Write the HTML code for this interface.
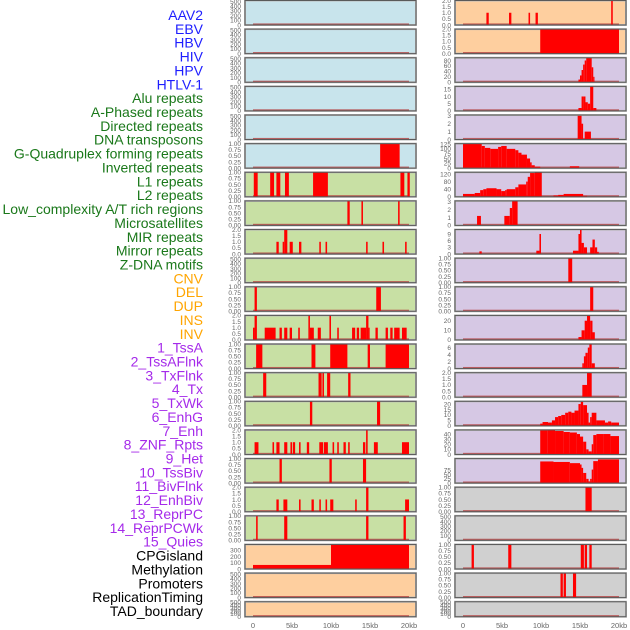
<!DOCTYPE html>
<html><head><meta charset="utf-8">
<style>
html,body{margin:0;padding:0;background:#fff;width:630px;height:630px;overflow:hidden}
svg{display:block;font-family:"Liberation Sans",sans-serif}
</style></head>
<body>
<svg id="chart" width="630" height="630" viewBox="0 0 630 630"></svg>
<script>
const labelNames = ["AAV2","EBV","HBV","HIV","HPV","HTLV-1","Alu repeats","A-Phased repeats","Directed repeats","DNA transposons","G-Quadruplex forming repeats","Inverted repeats","L1 repeats","L2 repeats","Low_complexity A/T rich regions","Microsatellites","MIR repeats","Mirror repeats","Z-DNA motifs","CNV","DEL","DUP","INS","INV","1_TssA","2_TssAFlnk","3_TxFlnk","4_Tx","5_TxWk","6_EnhG","7_Enh","8_ZNF_Rpts","9_Het","10_TssBiv","11_BivFlnk","12_EnhBiv","13_ReprPC","14_ReprPCWk","15_Quies","CPGisland","Methylation","Promoters","ReplicationTiming","TAD_boundary"];
const labelGroups = [0,0,0,0,0,0,1,1,1,1,1,1,1,1,1,1,1,1,1,2,2,2,2,2,3,3,3,3,3,3,3,3,3,3,3,3,3,3,3,4,4,4,4,4];
const xTicks = [0,5,10,15,20];
const xTickLabels = ["0","5kb","10kb","15kb","20kb"];
const T500=[0,100,200,300,400,500], T1=[0,0.25,0.5,0.75,1.0], T2=[0,0.5,1.0,1.5,2.0];
const panelTicks = [T500,T500,T500,T500,T500,T1,T1,T1,T2,T500,T1,T2,T1,T1,T1,T2,T1,T2,T1,[0,100,200,300],T500,T500,
 T2,T2,[0,20,40,60,80],[0,5,10,15],[0,1,2,3],[0,25,50,75,100,125],[0,40,80,120],[0,1,2,3],[0,3,6,9],T1,T1,[0,10,20],[0,2,4,6],T2,[0,5,10,15,20],[0,10,20,30,40],[0,25,50,75],T1,T500,T1,T1,T500];
const panelYmax = [520,520,520,520,520,1,1,1,2,520,1,2,1,1,1,2,1,2,1,395,520,520,
 2,2,90,17,3.1,127,129,3.1,11,1,1,25.5,7,2,22.5,48,145,1,520,1,1,520];
// bars: [startKb, endKb, value]
const panelBars = [
 [],[],[],[],[],
 [[16.3,18.8,1]],
 [[0.1,0.6,1],[2.2,2.7,1],[3.0,3.5,1],[4.1,4.6,1],[7.7,9.6,1],[18.9,19.4,1],[19.8,20.1,1]],
 [[12.1,12.4,1],[13.9,14.1,1],[18.6,18.8,1]],
 [[3.0,3.3,1],[3.8,4.0,1],[4.0,4.4,2],[4.7,5.1,1],[5.9,6.2,1],[8.5,8.7,1],[9.3,9.5,1],[14.5,14.7,1],[16.6,16.8,1],[19.5,19.7,1]],
 [],
 [[0.2,0.5,1],[15.8,16.4,1]],
 [[0,0.2,1],[0.2,0.5,2],[1.5,2.9,1],[3.4,3.7,1],[4.0,4.4,1],[4.7,5.0,1],[5.8,6.0,1],[7.1,7.3,2],[7.3,7.8,1],[8.3,8.7,1],[9.8,10.0,2],[10.8,11.0,1],[12.7,13.1,1],[13.3,13.6,1],[13.8,14.5,1],[14.5,14.8,2],[14.8,14.9,1],[15.7,16.0,1],[17.0,17.3,1],[17.6,17.9,1],[18.1,18.8,1],[19.1,19.7,1]],
 [[0.4,1.2,1],[7.5,8.0,1],[9.9,12.1,1],[14.7,15.0,1],[17.0,20.0,1]],
 [[1.3,1.7,1],[8.4,8.8,1],[8.9,9.1,1],[9.5,9.9,1],[12.2,12.5,1]],
 [[7.3,7.6,1],[15.9,16.3,1]],
 [[0.2,0.7,1],[2.5,2.7,1],[3.0,3.4,1],[4.0,4.4,1],[4.8,5.0,1],[5.1,5.4,1],[5.9,6.1,1],[6.9,7.2,1],[8.5,9.0,1],[9.1,9.6,1],[10.2,10.4,1],[10.8,11.0,1],[11.6,11.9,1],[12.2,12.4,1],[14.1,14.4,1],[14.5,14.7,2],[15.5,16.0,1],[19.1,20.0,1]],
 [[3.4,3.7,1],[9.8,10.1,1],[14.1,14.5,1]],
 [[3.0,3.3,1],[3.9,4.4,1],[5.9,6.1,1],[7.5,7.8,1],[8.5,8.7,1],[9.3,9.5,1],[9.9,10.3,1],[13.1,13.3,1],[14.5,14.8,2],[19.5,20.0,1]],
 [[0.4,0.6,1],[4.0,4.4,1],[14.5,14.8,1],[19.3,19.6,1]],
 [[0,10,65],[10,20,395]],
 [],[],
 [[3.0,3.3,1],[5.9,6.2,1],[8.4,8.6,1],[9.3,9.6,1],[19.0,19.2,2]],
 [[9.9,20.0,2]],
 [[9.9,10.0,2],[14.8,15.0,10],[15.0,15.2,25],[15.2,15.4,45],[15.4,15.6,65],[15.6,15.8,80],[15.8,16.5,89],[16.5,16.7,55],[16.7,16.8,20]],
 [[14.8,15.2,2],[15.2,15.5,10],[15.5,15.7,10],[15.7,16.0,6],[16.0,16.3,5],[16.3,16.7,17],[16.7,17.1,2]],
 [[14.7,15.2,3],[15.2,15.4,2],[15.6,16.4,1]],
 [[0,2.4,127],[2.4,2.8,115],[2.8,3.5,105],[3.5,4.5,100],[4.5,4.9,110],[4.9,5.6,115],[5.6,6.7,100],[6.7,7.1,93],[7.1,7.5,80],[7.5,8.2,70],[8.2,8.6,50],[8.6,8.8,30],[8.8,9.2,15],[9.2,9.9,8],[13.7,14.9,10]],
 [[0,1.5,15],[1.5,2.2,20],[2.2,2.6,35],[2.6,3.0,40],[3.0,4.3,45],[4.3,4.9,40],[4.9,5.4,30],[5.4,5.6,35],[5.6,6.7,40],[6.7,7.1,50],[7.1,8.1,65],[8.1,8.3,80],[8.3,8.6,105],[8.6,9.2,125],[9.2,10.1,129],[11.6,12.2,7],[12.2,12.9,10],[12.9,15.4,15],[15.4,15.9,5]],
 [[1.8,2.3,1.2],[5.3,6.0,1.2],[6.0,6.3,2.2],[6.3,7.0,3.1]],
 [[2.1,2.4,1.2],[9.4,9.8,1.5],[9.8,10.0,9],[14.1,14.8,1.5],[14.8,15.0,9],[15.0,15.2,10.9],[15.2,15.5,5],[15.5,15.9,3],[16.3,16.6,3],[16.6,16.9,6.5],[16.9,17.2,3],[17.2,17.4,1]],
 [[13.5,14.0,1]],
 [[16.3,16.7,1]],
 [[14.8,15.2,3],[15.2,15.6,10],[15.6,15.9,20],[15.9,16.3,25],[16.3,16.6,20],[16.6,16.9,8]],
 [[15.3,15.5,1.5],[15.5,15.7,3.5],[15.7,16.0,4.5],[16.0,16.2,6],[16.2,16.5,7],[16.5,16.9,1.5]],
 [[15.3,15.9,1],[15.9,16.5,2]],
 [[9.9,10.2,2],[10.2,10.9,3.5],[10.9,11.4,3],[11.4,11.8,5],[11.8,12.2,8],[12.2,12.6,9],[12.6,13.1,10],[13.1,13.5,12],[13.5,13.9,13],[13.9,14.3,12],[14.3,14.8,14],[14.8,15.1,20],[15.1,15.4,22],[15.4,15.9,19],[15.9,16.1,12],[16.1,16.3,3],[16.3,16.5,8],[16.5,17.1,12],[17.1,18.2,5],[18.2,18.6,3],[18.6,19.0,4],[19.0,20.0,3]],
 [[9.9,10.8,47],[10.8,11.8,48],[11.8,12.9,46],[12.9,13.7,44],[13.7,14.6,43],[14.6,15.0,40],[15.0,15.4,35],[15.4,15.8,25],[15.8,16.1,10],[16.1,16.5,6],[16.5,16.7,20],[16.7,17.1,38],[17.1,18.0,40],[18.0,18.9,40],[18.9,20.0,36]],
 [[9.9,11.6,128],[11.6,13.7,125],[13.7,15.0,118],[15.0,15.2,110],[15.2,15.4,90],[15.4,15.8,60],[15.8,16.1,25],[16.1,16.3,10],[16.3,16.5,25],[16.5,16.7,80],[16.7,17.3,130],[17.3,20.0,140]],
 [[15.7,16.5,1]],
 [],
 [[1.1,1.4,1],[5.8,6.2,1],[15.1,15.5,1],[15.6,15.9,1],[16.2,16.5,1]],
 [[12.5,12.8,1],[12.9,13.2,1],[14.1,14.5,1]],
 []
];
const groupColors = ["#1e1eff","#1a781a","#ffa500","#a52aea","#000000"];
const NS="http://www.w3.org/2000/svg";
const svg=document.getElementById('chart');
function mk(tag,attrs,parent){const e=document.createElementNS(NS,tag);for(const k in attrs)e.setAttribute(k,attrs[k]);(parent||svg).appendChild(e);return e;}
function fmt(v,ticks){const dec=ticks.some(t=>Math.abs(t*4-Math.round(t*4))<1e-9&&t%0.5!==0)?2:(ticks.some(t=>t%1!==0)?1:0);return v.toFixed(dec);}
// labels
labelNames.forEach((n,i)=>{
  const t=mk('text',{x:203,y:20+i*13.86,'text-anchor':'end','font-size':14,fill:groupColors[labelGroups[i]]});
  t.textContent=n;
  
  
});
function panelBg(i){
  if(i<6)return "#c8e4ec";
  if(i<19)return "#c8e0a4";
  if(i<24)return "#fecf9f";
  if(i<39)return "#d6c8e4";
  return "#d0d0d0";
}
panelBars.forEach((bars,i)=>{
  const col=i<22?0:1,row=i%22;
  const top=row*28.63+0.5,h=row==21?15:24.5,x0=col?455:245,w=171;
  const g=mk('g',{});
  
  
  const xs=kb=>x0+8+kb*7.8;
  const ymax=panelYmax[i];
  const ys=v=>top+h-Math.min(v,ymax)/ymax*h;
  const bg=mk('rect',{x:x0,y:top,width:w,height:h,fill:panelBg(i),stroke:'#bbb','stroke-width':2},g);
  
  
  const bl=mk('rect',{x:xs(0),y:top+h-1.6,width:xs(20)-xs(0),height:1.6,fill:'#b03030',opacity:0.7},g);
  
  
  bars.forEach(b=>{
    const r=mk('rect',{x:xs(b[0]),y:ys(b[2]),width:Math.max(1.2,xs(b[1])-xs(b[0])),height:top+h-ys(b[2]),fill:'#ff0000'},g);
    
    
  });
  const fr=mk('rect',{x:x0,y:top,width:w,height:h,fill:'none',stroke:'#5a5a5a','stroke-width':1},g);
  
  
  const tk=panelTicks[i];
  tk.forEach(v=>{
    const t=mk('text',{x:x0-4,y:ys(v)+2.3,'text-anchor':'end','font-size':6.5,fill:'#666'},g);
    t.textContent=fmt(v,tk);
    
    
  });
});
[245,455].forEach(x0=>{
  xTicks.forEach((v,j)=>{
    const t=mk('text',{x:x0+8+v*7.8,y:628,'text-anchor':'middle','font-size':7.5,fill:'#666'});
    t.textContent=xTickLabels[j];
    
    
  });
});
</script>
</body></html>
